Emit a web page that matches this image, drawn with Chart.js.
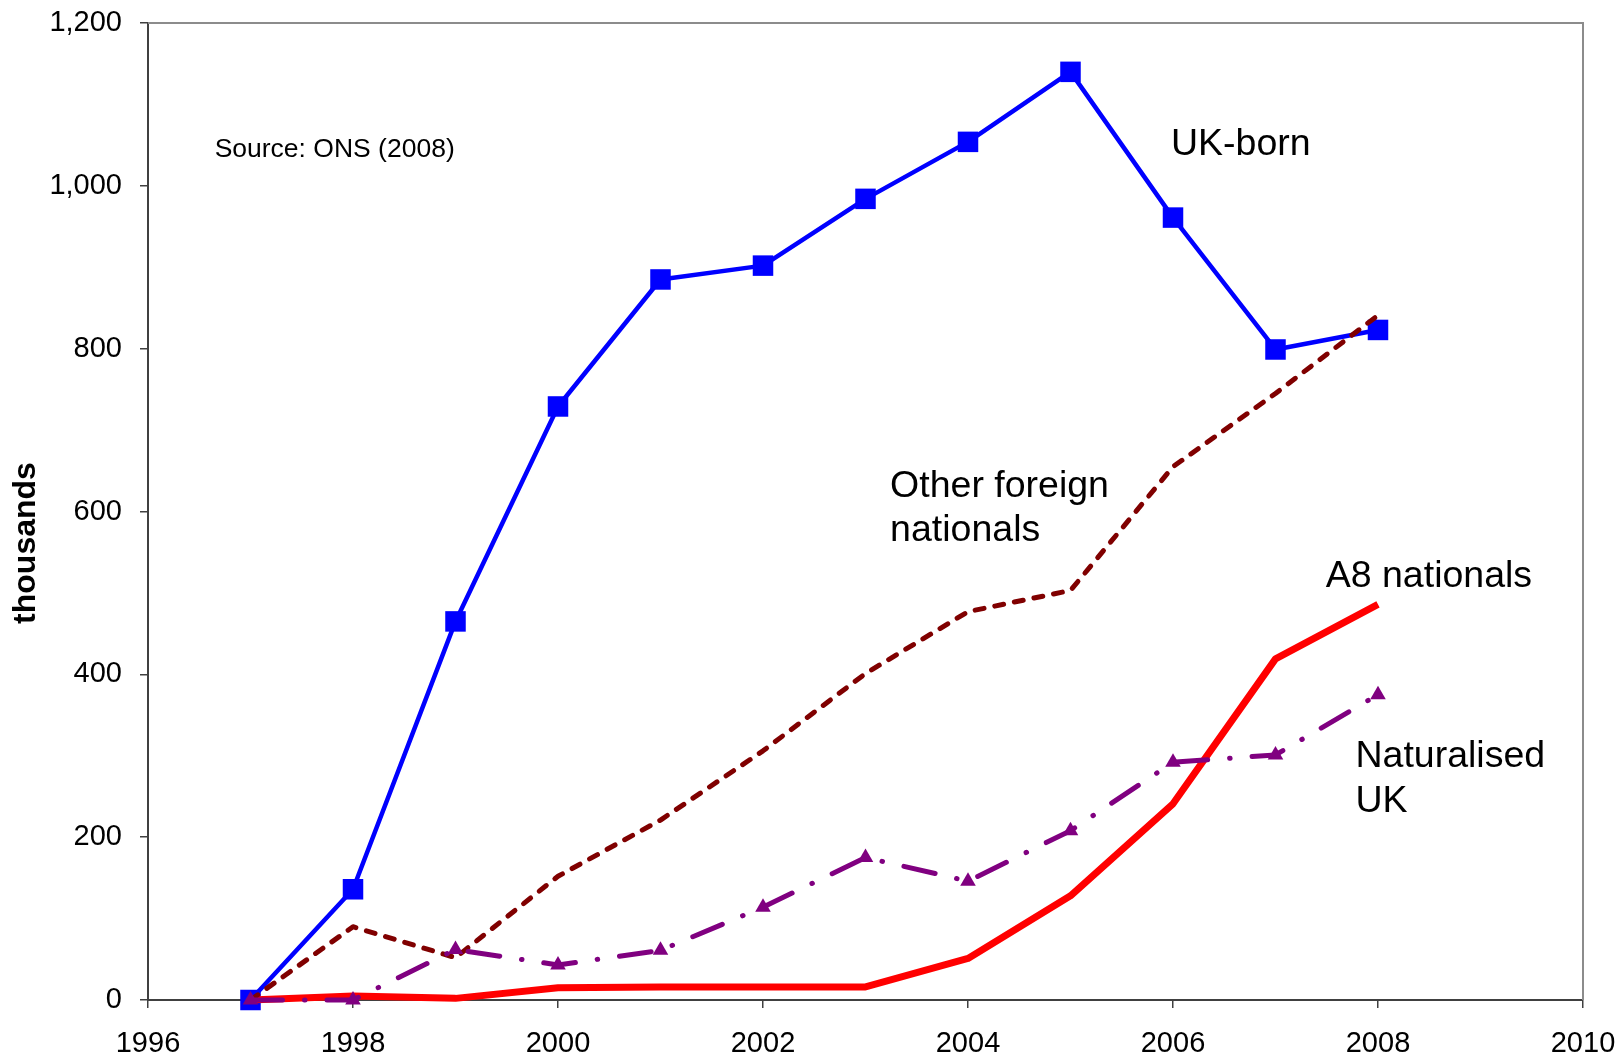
<!DOCTYPE html>
<html>
<head>
<meta charset="utf-8">
<title>Employment by nationality, 1997–2008</title>
<script src="https://cdn.jsdelivr.net/npm/chart.js@4/dist/chart.umd.min.js"></script>
<style>
  html, body { margin: 0; padding: 0; background: #ffffff; }
  #wrap { width: 1622px; height: 1058px; }
</style>
</head>
<body>
<div id="wrap"><canvas id="chart" width="1622" height="1058"></canvas></div>
<script>
// Change since 1997, thousands
const years = [1997, 1998, 1999, 2000, 2001, 2002, 2003, 2004, 2005, 2006, 2007, 2008];
const ukBorn = [0, 136, 465, 729, 885, 902, 984, 1054, 1140, 961, 799, 823];
const otherForeign = [0, 90, 52, 152, 221, 306, 401, 477, 503, 655, 745, 841];
const a8Nationals = [0, 5, 2, 15, 16, 16, 16, 51, 128, 241, 419, 486];
const naturalisedUK = [0, 0, 62, 43, 61, 114, 175, 146, 208, 292, 301, 375];

const xTicks = [1996, 1998, 2000, 2002, 2004, 2006, 2008, 2010];
const yTicks = [0, 200, 400, 600, 800, 1000, 1200];

// Series captions placed in data space
const seriesLabels = [
  { lines: ['UK-born'], x: 2005.98, y: 1050, size: 37.5 },
  { lines: ['Other foreign', 'nationals'], x: 2003.24, y: 631, size: 37.5 },
  { lines: ['A8 nationals'], x: 2007.49, y: 520, size: 37.5 },
  { lines: ['Naturalised', 'UK'], x: 2007.78, y: 299, size: 37.5 },
  { lines: ['Source: ONS (2008)'], x: 1996.65, y: 1044, size: 26.5 }
];
const yTitle = 'thousands';

const FONT = '"Liberation Sans", Arial, Helvetica, sans-serif';

const toPoints = vals => vals.map((v, i) => ({ x: years[i], y: v }));

const frameAndText = {
  id: 'frameAndText',
  afterDatasetsDraw(chart) {
    const { ctx, chartArea: a, scales } = chart;
    ctx.save();
    // top and right sides of the plot frame
    ctx.strokeStyle = '#8c8c8c';
    ctx.lineWidth = 2;
    ctx.beginPath();
    ctx.moveTo(a.left, a.top);
    ctx.lineTo(a.right, a.top);
    ctx.lineTo(a.right, a.bottom);
    ctx.stroke();

    ctx.fillStyle = '#000000';
    ctx.textAlign = 'left';
    ctx.textBaseline = 'middle';
    seriesLabels.forEach(l => {
      ctx.font = l.size + 'px ' + FONT;
      const px = scales.x.getPixelForValue(l.x);
      let py = scales.y.getPixelForValue(l.y);
      l.lines.forEach(line => {
        ctx.fillText(line, px, py);
        py += l.size * 1.19;
      });
    });

    // vertical axis title
    ctx.font = 'bold 32px ' + FONT;
    ctx.textAlign = 'center';
    ctx.translate(26, 543);
    ctx.rotate(-Math.PI / 2);
    ctx.fillText(yTitle, 0, 0);
    ctx.restore();
  }
};

new Chart(document.getElementById('chart'), {
  type: 'line',
  data: {
    datasets: [
      {
        label: 'UK-born',
        data: toPoints(ukBorn),
        borderColor: '#0000ff',
        backgroundColor: '#0000ff',
        borderWidth: 4.5,
        pointStyle: 'rect',
        pointRadius: 14.5,
        pointBorderWidth: 0,
        order: 3
      },
      {
        label: 'Other foreign nationals',
        data: toPoints(otherForeign),
        borderColor: '#800000',
        backgroundColor: '#800000',
        borderWidth: 5,
        borderDash: [9, 11],
        borderCapStyle: 'round',
        pointRadius: 0,
        order: 1
      },
      {
        label: 'A8 nationals',
        data: toPoints(a8Nationals),
        borderColor: '#ff0000',
        backgroundColor: '#ff0000',
        borderWidth: 7,
        pointRadius: 0,
        order: 2
      },
      {
        label: 'Naturalised UK',
        data: toPoints(naturalisedUK),
        borderColor: '#800080',
        backgroundColor: '#800080',
        borderWidth: 5,
        borderDash: [32, 22, 0.5, 22],
        borderCapStyle: 'round',
        pointStyle: 'triangle',
        pointRadius: 9,
        pointBorderWidth: 0,
        order: 0
      }
    ]
  },
  options: {
    responsive: false,
    animation: false,
    clip: false,
    layout: { padding: { left: 0, top: 23, right: 39, bottom: 0 } },
    plugins: {
      legend: { display: false },
      tooltip: { enabled: false }
    },
    elements: { line: { tension: 0, borderJoinStyle: 'round' } },
    scales: {
      x: {
        type: 'linear',
        min: xTicks[0],
        max: xTicks[xTicks.length - 1],
        afterBuildTicks: s => { s.ticks = xTicks.map(v => ({ value: v })); },
        afterFit: s => { s.height = 58; s.paddingLeft = 0; s.paddingRight = 0; },
        ticks: {
          color: '#000000',
          font: { family: FONT, size: 29 },
          padding: 19,
          maxRotation: 0,
          callback: v => String(v)
        },
        grid: {
          drawOnChartArea: false,
          drawTicks: true,
          tickLength: 8,
          color: '#404040',
          lineWidth: 1.5
        },
        border: { color: '#404040', width: 2 }
      },
      y: {
        type: 'linear',
        min: yTicks[0],
        max: yTicks[yTicks.length - 1],
        afterBuildTicks: s => { s.ticks = yTicks.map(v => ({ value: v })); },
        afterFit: s => { s.width = 148; s.paddingTop = 0; s.paddingBottom = 0; },
        ticks: {
          color: '#000000',
          font: { family: FONT, size: 29 },
          padding: 18,
          callback: v => v.toLocaleString('en-US')
        },
        grid: {
          drawOnChartArea: false,
          drawTicks: true,
          tickLength: 8,
          color: '#404040',
          lineWidth: 1.5
        },
        border: { color: '#404040', width: 2 }
      }
    }
  },
  plugins: [frameAndText]
});
</script>
</body>
</html>
